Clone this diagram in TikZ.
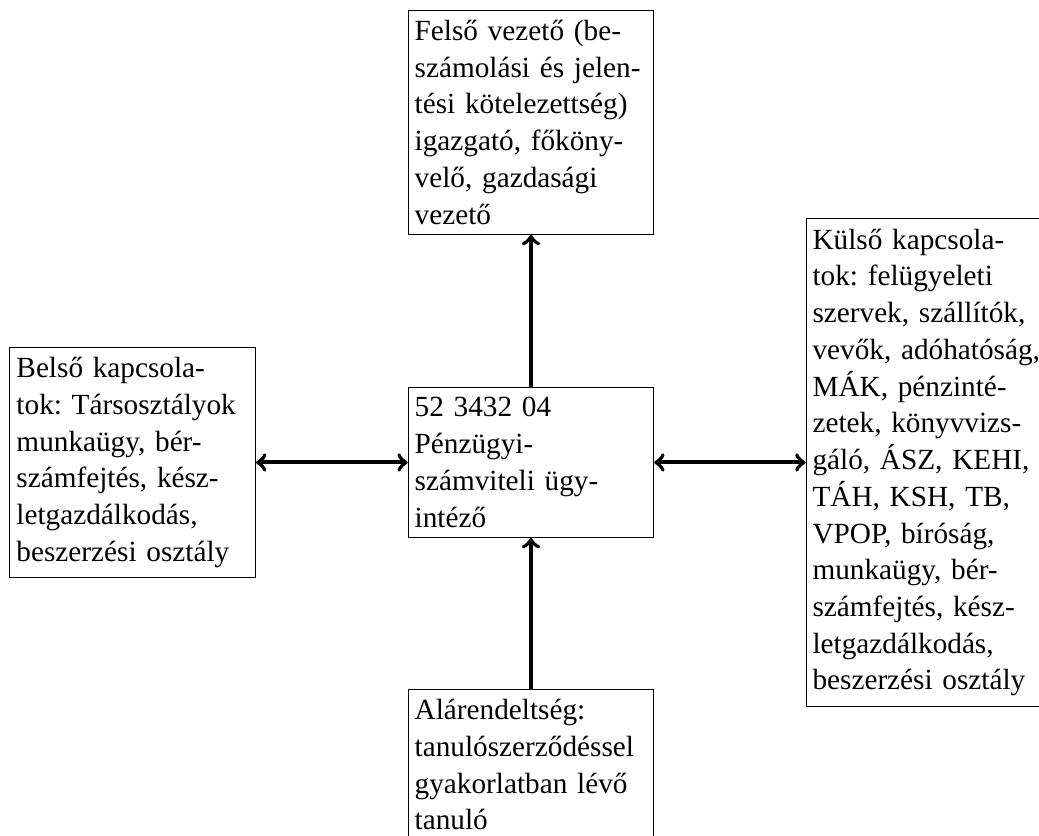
\documentclass[tikz,border=0pt]{standalone}
\usepackage{fontspec}
\setmainfont{Liberation Serif}
\usepackage{tikz}
\frenchspacing

\begin{document}
\begin{tikzpicture}[
	doboz/.style={draw, text width=93pt, align=left, inner xsep=2.6pt, inner ysep=4pt, font=\fontsize{11.7}{14.7}\selectfont},
	nyil/.style={ultra thick}
]
	\useasboundingbox (-7.465,-5.251) rectangle (7.142,6.502);
	
	\node[doboz] (kozep) at (0,0) {52 3432 04\\Pénzügyi-\\számviteli ügy-\\intéző};
	\node[doboz, anchor=south] (felso) at (0,3.2) {Felső vezető (be-\\számolási és jelen-\\tési kötelezettség)\\igazgató, főköny-\\velő, gazdasági\\vezető};
	\node[doboz, anchor=north] (also) at (0,-3.18) {Alárendeltség:\\tanulószerződéssel\\gyakorlatban lévő\\tanuló};
	\node[doboz, anchor=east] (belso) at (-3.866,0) {Belső kapcsola-\\tok: Társosztályok\\munkaügy, bér-\\számfejtés, kész-\\letgazdálkodás,\\beszerzési osztály};
	\node[doboz, anchor=west] (kulso) at (3.86,0) {Külső kapcsola-\\tok: felügyeleti\\szervek, szállítók,\\vevők,~adóhatóság,\\MÁK, pénzinté-\\zetek, könyvvizs-\\gáló, ÁSZ, KEHI,\\TÁH, KSH, TB,\\VPOP, bíróság,\\munkaügy, bér-\\számfejtés, kész-\\letgazdálkodás,\\beszerzési osztály};
	
	\draw[nyil,->] (kozep) -- (felso);
	\draw[nyil,->] (also) -- (kozep);
	\draw[nyil,<->] (belso) -- (kozep);
	\draw[nyil,<->] (kozep) -- (kulso);
\end{tikzpicture}
\end{document}
